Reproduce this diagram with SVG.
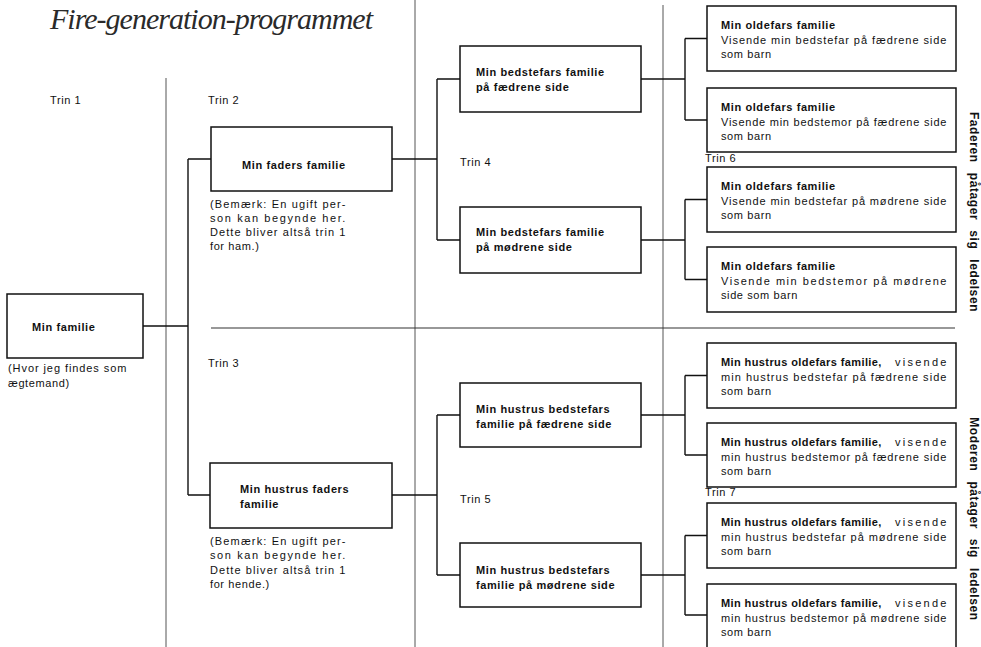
<svg xmlns="http://www.w3.org/2000/svg" width="981" height="647" viewBox="0 0 981 647">
<style>
  .bg { fill: #ffffff; }
  .box { fill: #ffffff; stroke: #111111; stroke-width: 1.5; }
  .sep { fill: none; stroke: #555555; stroke-width: 1; }
  .hsep { fill: none; stroke: #333333; stroke-width: 1.2; }
  .con { fill: none; stroke: #111111; stroke-width: 1.4; }
  text { font-family: "Liberation Sans", Arial, sans-serif; font-size: 11px; fill: #111111; letter-spacing: 0.6px; }
  .b { font-weight: bold; }
  .title { font-family: "Liberation Serif", "Times New Roman", serif; font-style: italic; font-size: 30px; fill: #2a2a2a; letter-spacing: 0; }
  .vert { font-weight: bold; font-size: 12px; letter-spacing: 0.6px; word-spacing: 6px; }
</style>
<rect class="bg" x="0" y="0" width="981" height="647"/>

<text class="title" x="50" y="29" textLength="323" lengthAdjust="spacing">Fire-generation-programmet</text>

<g id="separators">
  <line class="sep" x1="166" y1="78" x2="166" y2="647"/>
  <line class="sep" x1="415" y1="0" x2="415" y2="647"/>
  <line class="sep" x1="663" y1="5" x2="663" y2="647"/>
  <line class="hsep" x1="211" y1="328" x2="955" y2="328"/>
</g>

<g id="connectors">
  <path class="con" d="M143 326 H188 M188 159 V495 M188 159 H211 M188 495 H210"/>
  <path class="con" d="M392 159 H437 M437 79 V240 M437 79 H460 M437 240 H460"/>
  <path class="con" d="M392 495 H437 M437 415 V575 M437 415 H460 M437 575 H460"/>
  <path class="con" d="M641 79 H685 M685 38.5 V120 M685 38.5 H707 M685 120 H707"/>
  <path class="con" d="M641 240 H685 M685 199.5 V279.5 M685 199.5 H707 M685 279.5 H707"/>
  <path class="con" d="M641 415 H685 M685 375.5 V455 M685 375.5 H707 M685 455 H707"/>
  <path class="con" d="M641 575 H685 M685 535.5 V615 M685 535.5 H707 M685 615 H707"/>
</g>

<g id="node-min-familie">
  <rect class="box" x="7" y="294" width="136" height="64"/>
  <text class="b" x="32" y="331">Min familie</text>
  <text x="8" y="372" textLength="119" lengthAdjust="spacing">(Hvor jeg findes som</text>
  <text x="8" y="387">ægtemand)</text>
</g>

<g id="node-faders-familie">
  <rect class="box" x="211" y="127" width="181" height="64"/>
  <text class="b" x="242" y="169">Min faders familie</text>
  <text x="210" y="208" textLength="136" lengthAdjust="spacing">(Bemærk: En ugift per-</text>
  <text x="210" y="222" textLength="136" lengthAdjust="spacing">son kan begynde her.</text>
  <text x="210" y="236" textLength="136" lengthAdjust="spacing">Dette bliver altså trin 1</text>
  <text x="210" y="250">for ham.)</text>
</g>

<g id="node-hustrus-faders-familie">
  <rect class="box" x="210" y="463" width="182" height="65"/>
  <text class="b" x="240" y="493">Min hustrus faders</text>
  <text class="b" x="240" y="508">familie</text>
  <text x="210" y="545" textLength="136" lengthAdjust="spacing">(Bemærk: En ugift per-</text>
  <text x="210" y="559" textLength="136" lengthAdjust="spacing">son kan begynde her.</text>
  <text x="210" y="574" textLength="136" lengthAdjust="spacing">Dette bliver altså trin 1</text>
  <text x="210" y="588">for hende.)</text>
</g>

<g id="node-bedstefar-faedrene">
  <rect class="box" x="460" y="46" width="181" height="66"/>
  <text class="b" x="476" y="76">Min bedstefars familie</text>
  <text class="b" x="476" y="91">på fædrene side</text>
</g>

<g id="node-bedstefar-modrene">
  <rect class="box" x="460" y="207" width="181" height="66"/>
  <text class="b" x="476" y="236">Min bedstefars familie</text>
  <text class="b" x="476" y="251">på mødrene side</text>
</g>

<g id="node-hustrus-bedstefar-faedrene">
  <rect class="box" x="460" y="383" width="181" height="64"/>
  <text class="b" x="476" y="413">Min hustrus bedstefars</text>
  <text class="b" x="476" y="428">familie på fædrene side</text>
</g>

<g id="node-hustrus-bedstefar-modrene">
  <rect class="box" x="460" y="543" width="181" height="64"/>
  <text class="b" x="476" y="574">Min hustrus bedstefars</text>
  <text class="b" x="476" y="589">familie på mødrene side</text>
</g>

<g id="node-oldefar-1">
  <rect class="box" x="707" y="6" width="249" height="65"/>
  <text class="b" x="721" y="29">Min oldefars familie</text>
  <text x="721" y="44" textLength="226" lengthAdjust="spacing">Visende min bedstefar på fædrene side</text>
  <text x="721" y="58">som barn</text>
</g>

<g id="node-oldefar-2">
  <rect class="box" x="707" y="88" width="249" height="64"/>
  <text class="b" x="721" y="111">Min oldefars familie</text>
  <text x="721" y="126" textLength="226" lengthAdjust="spacing">Visende min bedstemor på fædrene side</text>
  <text x="721" y="140">som barn</text>
</g>

<g id="node-oldefar-3">
  <rect class="box" x="707" y="167" width="249" height="65"/>
  <text class="b" x="721" y="190">Min oldefars familie</text>
  <text x="721" y="205" textLength="226" lengthAdjust="spacing">Visende min bedstefar på mødrene side</text>
  <text x="721" y="219">som barn</text>
</g>

<g id="node-oldefar-4">
  <rect class="box" x="707" y="247" width="249" height="65"/>
  <text class="b" x="721" y="270">Min oldefars familie</text>
  <text x="721" y="285" textLength="226" lengthAdjust="spacing">Visende min bedstemor på mødrene</text>
  <text x="721" y="299">side som barn</text>
</g>

<g id="node-hustrus-oldefar-1">
  <rect class="box" x="707" y="343" width="249" height="65"/>
  <text class="b" x="721" y="366" textLength="161" lengthAdjust="spacing">Min hustrus oldefars familie,</text>
  <text x="895" y="366" textLength="52" lengthAdjust="spacing">visende</text>
  <text x="721" y="381" textLength="226" lengthAdjust="spacing">min hustrus bedstefar på fædrene side</text>
  <text x="721" y="395">som barn</text>
</g>

<g id="node-hustrus-oldefar-2">
  <rect class="box" x="707" y="423" width="249" height="64"/>
  <text class="b" x="721" y="446" textLength="161" lengthAdjust="spacing">Min hustrus oldefars familie,</text>
  <text x="895" y="446" textLength="52" lengthAdjust="spacing">visende</text>
  <text x="721" y="461" textLength="226" lengthAdjust="spacing">min hustrus bedstemor på fædrene side</text>
  <text x="721" y="475">som barn</text>
</g>

<g id="node-hustrus-oldefar-3">
  <rect class="box" x="707" y="503" width="249" height="65"/>
  <text class="b" x="721" y="526" textLength="161" lengthAdjust="spacing">Min hustrus oldefars familie,</text>
  <text x="895" y="526" textLength="52" lengthAdjust="spacing">visende</text>
  <text x="721" y="541" textLength="226" lengthAdjust="spacing">min hustrus bedstefar på mødrene side</text>
  <text x="721" y="555">som barn</text>
</g>

<g id="node-hustrus-oldefar-4">
  <rect class="box" x="707" y="584" width="249" height="80"/>
  <text class="b" x="721" y="607" textLength="161" lengthAdjust="spacing">Min hustrus oldefars familie,</text>
  <text x="895" y="607" textLength="52" lengthAdjust="spacing">visende</text>
  <text x="721" y="622" textLength="226" lengthAdjust="spacing">min hustrus bedstemor på mødrene side</text>
  <text x="721" y="636">som barn</text>
</g>

<g id="labels">
  <text x="50" y="104">Trin 1</text>
  <text x="208" y="104">Trin 2</text>
  <text x="208" y="367">Trin 3</text>
  <text x="460" y="166">Trin 4</text>
  <text x="460" y="503">Trin 5</text>
  <text x="705" y="162">Trin 6</text>
  <text x="705" y="496">Trin 7</text>
  <text class="vert" transform="translate(970,212) rotate(90)" text-anchor="middle">Faderen påtager sig ledelsen</text>
  <text class="vert" transform="translate(970,519) rotate(90)" text-anchor="middle">Moderen påtager sig ledelsen</text>
</g>
</svg>
